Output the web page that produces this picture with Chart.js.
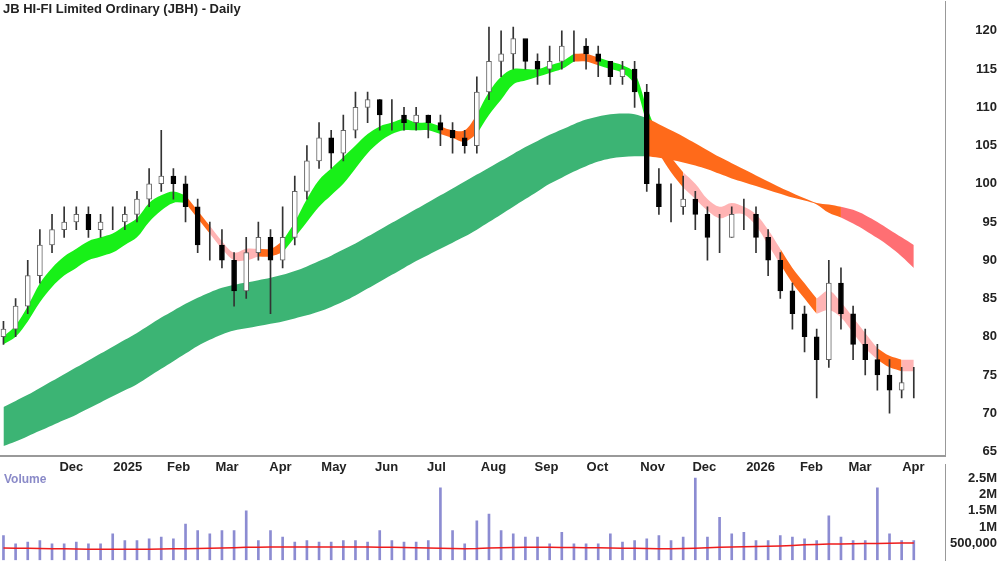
<!DOCTYPE html>
<html><head><meta charset="utf-8">
<script src="https://cdn.jsdelivr.net/npm/chart.js@4"></script>
<style>
body{margin:0;background:#fff;width:1000px;height:562px;overflow:hidden;position:relative;font-family:"Liberation Sans",Arial,sans-serif}
#w1{position:absolute;left:0;top:-10px;width:1000px;height:488px}
#w2{position:absolute;left:0;top:453px;width:1000px;height:119px}
#title{position:absolute;left:3px;top:1px;font-weight:bold;font-size:13px;color:#222}
#vol{position:absolute;left:4px;top:472px;font-weight:bold;font-size:12px;color:#8a8ac8}
</style></head><body>
<div id="w1"><canvas id="c1"></canvas></div>
<div id="w2"><canvas id="c2"></canvas></div>
<div id="title">JB HI-FI Limited Ordinary (JBH) - Daily</div>
<div id="vol">Volume</div>
<script>
// weekly candles, x = calendar day offset from 1 Nov 2024
const weekDays = Array.from({length:76},(_,i)=>i*7);
const closes=[81,84,88,92,94,95,96,94,95,95,96,98,100,101,100,97,92,92,90,86,91,93,90,93,99,103,106,104,107,110,111,109,109,108,109,108,107,106,105,112,116,117,119,116,115,116,118,118,117,116,114,115,112,100,97,97,98,96,93,93,96,96,93,90,86,83,80,77,87,83,79,77,75,73,74,74];
const opens=[80,81,84,88,92,94,95,96,94,95,95,96,98,100,101,100,97,92,92,90,86,91,93,90,93,99,103,106,104,107,110,111,109,109,108,109,108,107,106,105,112,116,117,119,116,115,116,118,118,117,116,114,115,112,100,97,97,98,96,93,93,96,96,93,90,86,83,80,77,87,83,79,77,75,73,74];
const highs=[82,85,90,94,96,97,97,97,96,97,97,99,102,107,102,101,98,95,94,91,93,95,94,97,101,105,108,107,109,112,112,111,111,110,110,109,109,108,107,114,120.5,120,120.5,118,117,118,120,120,119,118,116,116,116,113,102,100,101,99,97,96,97,98,97,94,91,87,84,81,90,89,84,81,79,77,76,76];
const lows=[79,80,83,87,91,93,94,93,93,94,94,95,97,99,98,95,91,90,89,84,85,90,83,89,92,98,102,102,103,106,108,107,107,107,107,106,105,104,104,104,111,114,115,115,113,113,115,116,115,114,113,113,110,99,96,95,96,94,90,91,93,94,91,88,85,81,78,72,76,81,77,75,73,70,72,72];
const fastLo=[79,80,82,84.5,86.5,88,89,90,90.5,91,92,93,95,96.5,97.5,97.5,95.5,93.5,91.5,90,90,90.5,90.5,91,93,95,97,98.5,100,102,104,105.5,106.5,107,107,107,106.5,106,105.5,106.5,109,111,113,113.5,114,114.5,115,116,116,115.5,115,114.5,113,108,104,101.5,99.5,98,96.5,95.5,96,96,94.5,92,89.5,87,85,83,83.5,82.5,80.5,78.5,77,76,75.5,75.5];
const fastHi=[80,81.5,84,87,89,90.5,91.5,92.5,93,93.5,94.5,95.5,97.5,98.5,99,98.5,96.5,94.5,92.5,91,91.5,91.5,91.5,92.5,95,98,100.5,102,103.5,105,106.5,107.5,108,108.5,108,108,107.5,107,107,109,112,114,115,115,115,115.5,116,117,117,116.5,116,115.5,114.5,110,106,103.5,101.5,100,98,97,97.5,97,96,94,91.5,89,87,85,86,84.5,82.5,80.5,78.5,77.5,77,77];
const fastState="gggggggggggggggooppppoogggggggggggggoooggggggggoogggggooppppppppooopppppoopppppp".slice(0,76).split('');
const slowLo=[65.7,66.3,67,67.7,68.4,69.1,69.8,70.6,71.4,72.2,73,73.8,74.8,75.8,76.8,77.8,78.8,79.6,80.3,80.8,81.1,81.4,81.7,82,82.4,82.8,83.3,83.9,84.6,85.4,86.3,87.2,88.1,89,89.9,90.7,91.5,92.3,93.1,94,95,96,97,98,99,100,100.8,101.6,102.3,102.9,103.3,103.5,103.6,103.6,103.4,103.1,102.8,102.4,101.9,101.3,100.7,100.2,99.7,99.2,98.7,98.2,97.8,97.3,96.2,95.6,94.8,93.9,92.9,91.8,90.5,89];
const slowHi=[70.8,71.6,72.4,73.3,74.2,75.1,76,76.9,77.8,78.7,79.6,80.5,81.5,82.5,83.4,84.3,85.1,85.8,86.4,86.8,87.1,87.4,87.7,88.1,88.6,89.2,89.9,90.6,91.4,92.2,93.1,94,94.9,95.8,96.7,97.6,98.5,99.4,100.3,101.2,102.1,103,103.9,104.8,105.6,106.4,107.1,107.8,108.4,108.8,109.1,109.2,109.1,108.6,107.8,107,106.2,105.3,104.4,103.5,102.7,101.9,101.1,100.3,99.5,98.8,98.1,97.5,97.3,97,96.6,95.9,95,94,93,92];
const slowState="gggggggggggggggggggggggggggggggggggggggggggggggggggggoooooooooooooooorrrrrrrr".slice(0,76).split('');
const volume=[750000,500000,550000,600000,500000,500000,550000,500000,500000,800000,600000,600000,650000,700000,650000,1100000,900000,800000,900000,900000,1500000,600000,900000,700000,550000,600000,550000,550000,600000,600000,550000,900000,600000,550000,550000,600000,2200000,900000,500000,1200000,1400000,900000,800000,700000,700000,500000,850000,500000,500000,500000,800000,550000,600000,650000,750000,600000,700000,2500000,700000,1300000,800000,850000,600000,600000,750000,700000,650000,600000,1350000,700000,600000,600000,2200000,800000,600000,600000];
const volMA=[370000,365000,360000,355000,350000,345000,340000,335000,332000,330000,330000,332000,335000,340000,345000,350000,355000,360000,370000,380000,390000,395000,400000,402000,405000,405000,405000,405000,402000,400000,398000,395000,390000,385000,380000,370000,360000,355000,350000,355000,370000,380000,385000,390000,390000,390000,388000,385000,380000,375000,370000,365000,360000,355000,350000,350000,355000,365000,380000,395000,405000,410000,415000,425000,435000,450000,470000,480000,490000,495000,500000,505000,510000,515000,520000,520000];
const monthDays=[30,61,92,120,151,181,212,242,273,304,334,365,395,426,457,485,516];
const monthLabels=["Dec","2025","Feb","Mar","Apr","May","Jun","Jul","Aug","Sep","Oct","Nov","Dec","2026","Feb","Mar","Apr"];
const priceTicks=[65,70,75,80,85,90,95,100,105,110,115,120];
const volTicks=[500000,1000000,1500000,2000000,2500000];
const volTickLabels=["500,000","1M","1.5M","2M","2.5M"];

const fastColors={g:'#18f018',o:'#ff6a1a',p:'#ffb4b4'};
const slowColors={g:'#3cb474',o:'#ff6a1a',r:'#ff6f73'};
const FONT={family:'"Liberation Sans",Arial,sans-serif',size:13,weight:'bold'};

function bandSets(lo,hi,state,colors){
  const out=[];
  for(const s of Object.keys(colors)){
    const inS=i=>state[i]===s||(i>0&&state[i-1]===s);
    const l=weekDays.map((d,i)=>({x:d,y:inS(i)?lo[i]:null}));
    const h=weekDays.map((d,i)=>({x:d,y:inS(i)?hi[i]:null}));
    const base={type:'line',pointRadius:0,borderWidth:0,tension:0.35,spanGaps:false,order:10};
    out.push({...base,data:l,fill:false});
    out.push({...base,data:h,fill:'-1',backgroundColor:colors[s]});
  }
  return out;
}
const up=closes.map((c,i)=>c>=opens[i]);
const xScale={type:'linear',min:-2,max:543,offset:false,border:{color:'#999',width:2},grid:{display:false,drawTicks:false,offset:false},
  afterBuildTicks:s=>{s.ticks=monthDays.map(v=>({value:v}));},
  ticks:{callback:(v)=>monthLabels[monthDays.indexOf(v)],font:FONT,color:'#222',align:'start',labelOffset:4,maxRotation:0,autoSkip:false,padding:3}};

new Chart(document.getElementById('c1'),{
  data:{datasets:[
    ...bandSets(slowLo,slowHi,slowState,slowColors),
    ...bandSets(fastLo,fastHi,fastState,fastColors),
    {type:'bar',data:weekDays.map((d,i)=>({x:d,y:[lows[i],highs[i]]})),backgroundColor:'#333',barThickness:1,grouped:false,order:2},
    {type:'bar',data:weekDays.map((d,i)=>({x:d,y:[opens[i],closes[i]]})),backgroundColor:up.map(u=>u?'#ffffff':'#000'),borderColor:up.map(u=>u?'#666':'#000'),borderWidth:1,borderSkipped:false,barThickness:5,grouped:false,order:1}
  ]},
  options:{animation:false,responsive:true,maintainAspectRatio:false,layout:{padding:{left:0,right:3,top:0,bottom:0}},
    plugins:{legend:{display:false},tooltip:{enabled:false}},
    scales:{x:xScale,
      y:{position:'right',min:64.35,max:123.8,border:{color:'#999'},grid:{display:false},
        afterBuildTicks:s=>{s.ticks=priceTicks.map(v=>({value:v}));},
        afterFit:s=>{s.width=52;},
        ticks:{font:FONT,color:'#222',crossAlign:'far',padding:4}}}}
});
new Chart(document.getElementById('c2'),{
  data:{datasets:[
    {type:'line',data:weekDays.map((d,i)=>({x:d,y:volMA[i]})),borderColor:'#ee1c1c',borderWidth:1.5,pointRadius:0,order:1},
    {type:'bar',data:weekDays.map((d,i)=>({x:d,y:volume[i]})),backgroundColor:'#8c8cd2',barThickness:2,order:2}
  ]},
  options:{animation:false,responsive:true,maintainAspectRatio:false,layout:{padding:{left:0,right:3,top:0,bottom:3}},
    plugins:{legend:{display:false},tooltip:{enabled:false}},
    scales:{x:{type:'linear',min:-2,max:543,offset:false,display:false},
      y:{position:'right',min:0,max:2900000,border:{color:'#999'},grid:{display:false},
        afterBuildTicks:s=>{s.ticks=volTicks.map(v=>({value:v}));},
        afterFit:s=>{s.width=52;},
        ticks:{font:FONT,color:'#222',crossAlign:'far',padding:4,callback:v=>volTickLabels[volTicks.indexOf(v)]}}}}
});
</script></body></html>
